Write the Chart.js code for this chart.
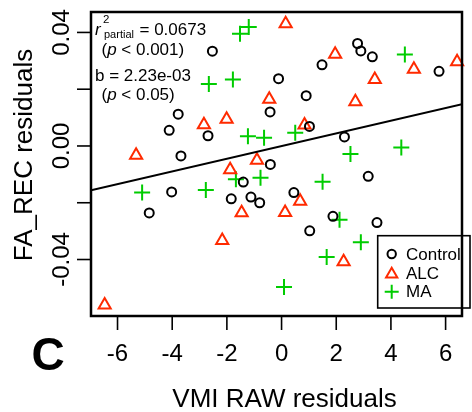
<!DOCTYPE html>
<html>
<head>
<meta charset="utf-8">
<script src="https://cdn.jsdelivr.net/npm/chart.js@4/dist/chart.umd.min.js"></script>
<style>
  html, body { margin: 0; padding: 0; background: #fff; }
  #wrap { width: 472px; height: 412px; }
</style>
</head>
<body>
<div id="wrap"><canvas id="c" width="472" height="412"></canvas></div>
<script>
'use strict';

// values
const controlX = [-2.53, -3.78, -4.11, -2.69, -3.68, 1.48, -0.11, 0.90, -0.42, 1.02, -0.41, 2.78, 2.90, 3.32, 5.76, 2.30, -4.02, -4.84, -1.40, -1.84, -1.12, -0.80, 0.45, 1.88, 1.03, 3.17, 3.49];
const controlY = [0.0334, 0.0112, 0.0055, 0.0036, -0.0035, 0.0286, 0.0237, 0.0177, 0.0120, 0.0069, -0.0065, 0.0361, 0.0335, 0.0314, 0.0263, 0.0032, -0.0162, -0.0236, -0.0127, -0.0186, -0.0180, -0.0200, -0.0164, -0.0248, -0.0299, -0.0107, -0.0270];

const alcX = [-2.84, -5.32, 0.15, 1.96, -0.45, -2.01, 0.84, -0.90, -1.88, 4.84, 6.42, 3.41, 2.70, -6.47, -1.46, 0.13, 0.68, -2.17, 2.27];
const alcY = [0.0075, -0.0033, 0.0431, 0.0323, 0.0165, 0.0094, 0.0074, -0.0050, -0.0084, 0.0270, 0.0297, 0.0234, 0.0156, -0.0560, -0.0235, -0.0234, -0.0195, -0.0333, -0.0408];

const maX = [-2.66, -1.20, -1.52, -1.78, -1.23, -0.64, 0.50, 4.51, 2.52, 4.38, -5.10, -2.77, -1.67, -0.77, 1.50, 1.65, 0.09, 2.12, 2.90];
const maY = [0.0218, 0.0419, 0.0395, 0.0234, 0.0034, 0.0029, 0.0047, 0.0322, -0.0028, -0.0005, -0.0164, -0.0155, -0.0117, -0.0112, -0.0126, -0.0391, -0.0497, -0.0260, -0.0339];

// fitted line end points (b = 2.23e-03)
const fitX = [-6.97, 6.6];
const fitY = [-0.0156, 0.0147];

const xTicks = [-6, -4, -2, 0, 2, 4, 6];
const yTicks = [-0.04, -0.02, 0, 0.02, 0.04];
const yTickLabels = ['-0.04', '', '0.00', '', '0.04'];

const legendLabels = ['Control', 'ALC', 'MA'];

const RED = '#ff2a00';
const GREEN = '#00cc00';
const FONT = "'Liberation Sans', Arial, Helvetica, sans-serif";

function pts(xs, ys) {
    return xs.map((x, i) => ({ x: x, y: ys[i] }));
}

const rAxes = {
    id: 'rAxes',
    afterDraw(chart) {
        const ctx = chart.ctx;
        const a = chart.chartArea;
        const sx = chart.scales.x;
        const sy = chart.scales.y;
        ctx.save();

        // box
        ctx.strokeStyle = '#000';
        ctx.lineWidth = 2.5;
        ctx.strokeRect(a.left, a.top, a.right - a.left, a.bottom - a.top);

        // x axis ticks + labels
        ctx.lineWidth = 1.6;
        ctx.fillStyle = '#000';
        ctx.font = '24px ' + FONT;
        ctx.textAlign = 'center';
        ctx.textBaseline = 'alphabetic';
        xTicks.forEach(v => {
            const px = sx.getPixelForValue(v);
            ctx.beginPath();
            ctx.moveTo(px, a.bottom);
            ctx.lineTo(px, a.bottom + 14);
            ctx.stroke();
            ctx.fillText(String(v), px, 361);
        });

        // y axis ticks + rotated labels
        yTicks.forEach((v, i) => {
            const py = sy.getPixelForValue(v);
            ctx.beginPath();
            ctx.moveTo(a.left, py);
            ctx.lineTo(a.left - 14, py);
            ctx.stroke();
            if (yTickLabels[i]) {
                ctx.save();
                ctx.translate(69, py);
                ctx.rotate(-Math.PI / 2);
                ctx.fillText(yTickLabels[i], 0, 0);
                ctx.restore();
            }
        });

        // axis titles
        ctx.font = '26px ' + FONT;
        ctx.fillText('VMI RAW residuals', 284.5, 407);
        ctx.save();
        ctx.translate(32, 155);
        ctx.rotate(-Math.PI / 2);
        ctx.fillText('FA_REC residuals', 0, 0);
        ctx.restore();

        // panel letter
        ctx.font = 'bold 46px ' + FONT;
        ctx.fillText('C', 48, 370);

        // annotation
        ctx.textAlign = 'left';
        ctx.font = 'italic 17px ' + FONT;
        ctx.fillText('r', 95, 35);
        ctx.font = '11.5px ' + FONT;
        ctx.fillText('2', 103, 23);
        ctx.font = '11px ' + FONT;
        ctx.fillText('partial', 104, 37.5);
        ctx.font = '17px ' + FONT;
        ctx.fillText('= 0.0673', 139.5, 35);

        function pLine(text, y) {
            let cx = 101.5;
            ctx.font = '17px ' + FONT;
            ctx.fillText('(', cx, y);
            cx += ctx.measureText('(').width;
            ctx.font = 'italic 17px ' + FONT;
            ctx.fillText('p', cx, y);
            cx += ctx.measureText('p ').width;
            ctx.font = '17px ' + FONT;
            ctx.fillText(text, cx, y);
        }
        pLine('< 0.001)', 54.5);
        ctx.font = '17px ' + FONT;
        ctx.fillText('b = 2.23e-03', 95, 80.5);
        pLine('< 0.05)', 99.5);

        // legend
        ctx.lineWidth = 1.6;
        ctx.strokeRect(377.7, 235.7, 92.3, 72.3);
        const rows = [254, 273.3, 291.7];
        const marks = [
            { pointStyle: 'circle', radius: 4.2, borderWidth: 2, color: '#000' },
            { pointStyle: 'triangle', radius: 6.5, borderWidth: 2, color: RED },
            { pointStyle: 'cross', radius: 7, borderWidth: 2, color: GREEN }
        ];
        ctx.textBaseline = 'middle';
        legendLabels.forEach((lab, i) => {
            ctx.strokeStyle = marks[i].color;
            ctx.fillStyle = 'rgba(0,0,0,0)';
            ctx.lineWidth = marks[i].borderWidth;
            Chart.helpers.drawPoint(ctx, { pointStyle: marks[i].pointStyle, radius: marks[i].radius, rotation: 0, borderWidth: marks[i].borderWidth }, 391.7, rows[i] + (i === 1 ? 1 : 0));
            ctx.fillStyle = '#000';
            ctx.font = '17px ' + FONT;
            ctx.fillText(lab, 406, rows[i] + 1);
        });

        ctx.restore();
    }
};

new Chart(document.getElementById('c'), {
    type: 'scatter',
    data: {
        datasets: [
            { label: 'fit', data: pts(fitX, fitY), showLine: true, borderColor: '#000', borderWidth: 2, pointRadius: 0, order: 0 },
            { label: legendLabels[0], data: pts(controlX, controlY), pointStyle: 'circle', pointRadius: 4.5, borderWidth: 2, borderColor: '#000', backgroundColor: 'rgba(0,0,0,0)', clip: false, order: 1 },
            { label: legendLabels[1], data: pts(alcX, alcY), pointStyle: 'triangle', pointRadius: 7, borderWidth: 2, borderColor: RED, backgroundColor: 'rgba(0,0,0,0)', clip: false, order: 1 },
            { label: legendLabels[2], data: pts(maX, maY), pointStyle: 'cross', pointRadius: 8, borderWidth: 2, borderColor: GREEN, backgroundColor: 'rgba(0,0,0,0)', clip: false, order: 1 }
        ]
    },
    options: {
        responsive: false,
        animation: false,
        devicePixelRatio: 1,
        layout: { padding: { left: 91, right: 2, top: 12, bottom: 96 } },
        plugins: { legend: { display: false }, tooltip: { enabled: false } },
        elements: { point: { hoverRadius: 0 } },
        scales: {
            x: { type: 'linear', min: -6.97, max: 6.6, display: false },
            y: { type: 'linear', min: -0.0599, max: 0.0472, display: false }
        }
    },
    plugins: [rAxes]
});
</script>
</body>
</html>
